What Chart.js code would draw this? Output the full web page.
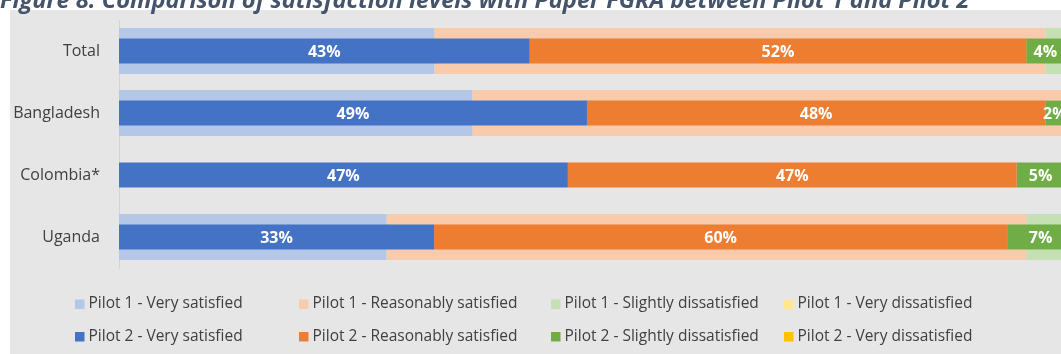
<!DOCTYPE html>
<html>
<head>
<meta charset="utf-8">
<script src="https://cdn.jsdelivr.net/npm/chart.js@4.4.1/dist/chart.umd.min.js"></script>
<style>
    html, body { margin: 0; padding: 0; overflow: hidden; background: #ffffff; }
    #wrap { position: absolute; left: 0; top: 0; width: 1100px; height: 354px; }
</style>
</head>
<body>
<div id="wrap"><canvas id="satisfactionChart" width="1100" height="354"></canvas></div>
<script>
"use strict";

// Kategorier och andelar (%) per pilot
const titleText = 'Figure 8: Comparison of satisfaction levels with Paper FGRA between Pilot 1 and Pilot 2';
const categories = ['Total', 'Bangladesh', 'Colombia*', 'Uganda'];

const pilot1VerySatisfied = [33, 37, null, 28];
const pilot1ReasonablySatisfied = [64, 62, null, 67];
const pilot1SlightlyDissatisfied = [3, 1, null, 5];
const pilot1VeryDissatisfied = [0, 0, null, 0];

const pilot2VerySatisfied = [43, 49, 47, 33];
const pilot2ReasonablySatisfied = [52, 48, 47, 60];
const pilot2SlightlyDissatisfied = [4, 2, 5, 7];
const pilot2VeryDissatisfied = [0, 0, 0, 0];

const textColor = '#404040';
const fontFamily = '"Open Sans", "DejaVu Sans", sans-serif';

// Pilot 1 ritas som breda ljusa staplar bakom, Pilot 2 som smala staplar framför
function pilot1Set(label, data, color) {
    return {
        label: label, data: data, backgroundColor: color, borderWidth: 0,
        stack: 'pilot1', grouped: false, order: 2,
        categoryPercentage: 0.745, barPercentage: 1.0
    };
}

function pilot2Set(label, data, color) {
    return {
        label: label, data: data, backgroundColor: color, borderWidth: 0,
        stack: 'pilot2', grouped: false, order: 1,
        categoryPercentage: 0.40, barPercentage: 1.0
    };
}

const datasets = [
    pilot1Set('Pilot 1 - Very satisfied', pilot1VerySatisfied, '#b4c7e7'),
    pilot1Set('Pilot 1 - Reasonably satisfied', pilot1ReasonablySatisfied, '#f8cbad'),
    pilot1Set('Pilot 1 - Slightly dissatisfied', pilot1SlightlyDissatisfied, '#c5e0b4'),
    pilot1Set('Pilot 1 - Very dissatisfied', pilot1VeryDissatisfied, '#ffe699'),
    pilot2Set('Pilot 2 - Very satisfied', pilot2VerySatisfied, '#4472c4'),
    pilot2Set('Pilot 2 - Reasonably satisfied', pilot2ReasonablySatisfied, '#ed7d31'),
    pilot2Set('Pilot 2 - Slightly dissatisfied', pilot2SlightlyDissatisfied, '#70ad47'),
    pilot2Set('Pilot 2 - Very dissatisfied', pilot2VeryDissatisfied, '#ffc000')
];

// Bakgrund, rubrik och förklaring ritas direkt på canvasen
const pageDecor = {
    id: 'pageDecor',
    beforeDraw(chart) {
        const ctx = chart.ctx;
        ctx.save();
        ctx.fillStyle = '#ffffff';
        ctx.fillRect(0, 0, chart.width, chart.height);
        ctx.fillStyle = '#e6e6e6';
        ctx.fillRect(10, 10, chart.width - 10, chart.height - 10);

        // Anpassa rubrikens storlek till önskad bredd
        let size = 20;
        ctx.font = `italic bold ${size}px ${fontFamily}`;
        size = size * 970 / ctx.measureText(titleText).width;
        ctx.font = `italic bold ${size}px ${fontFamily}`;
        ctx.fillStyle = '#44546a';
        ctx.textBaseline = 'alphabetic';
        ctx.textAlign = 'left';
        ctx.fillText(titleText, 0, 7.5);
        ctx.restore();
    },
    afterDraw(chart) {
        const ctx = chart.ctx;
        const columns = [75, 299, 551, 784];
        const rows = [304, 336.5];
        ctx.save();
        ctx.font = `15.5px ${fontFamily}`;
        ctx.textBaseline = 'middle';
        ctx.textAlign = 'left';
        chart.data.datasets.forEach((ds, i) => {
            const x = columns[i % 4];
            const y = rows[Math.floor(i / 4)];
            ctx.fillStyle = ds.backgroundColor;
            ctx.fillRect(x, y - 4.5, 9.5, 9.5);
            ctx.fillStyle = textColor;
            ctx.fillText(ds.label, x + 13.5, y);
        });
        ctx.restore();
    }
};

// Skriver ut procentvärdet mitt i varje Pilot 2-segment
const valueLabels = {
    id: 'valueLabels',
    afterDatasetsDraw(chart) {
        const ctx = chart.ctx;
        ctx.save();
        ctx.font = `bold 16px ${fontFamily}`;
        ctx.fillStyle = '#ffffff';
        ctx.textAlign = 'center';
        ctx.textBaseline = 'middle';
        chart.data.datasets.forEach((ds, i) => {
            if (ds.stack !== 'pilot2') return;
            const meta = chart.getDatasetMeta(i);
            meta.data.forEach((bar, j) => {
                const value = ds.data[j];
                if (!value) return;
                const p = bar.getCenterPoint();
                ctx.fillText(value + '%', p.x, p.y + 1);
            });
        });
        ctx.restore();
    }
};

new Chart(document.getElementById('satisfactionChart'), {
    type: 'bar',
    data: {
        labels: categories,
        datasets: datasets
    },
    options: {
        indexAxis: 'y',
        responsive: false,
        animation: false,
        layout: {
            padding: { top: 20, bottom: 86, left: 0, right: 26 }
        },
        plugins: {
            legend: { display: false },
            title: { display: false },
            tooltip: { enabled: false }
        },
        scales: {
            x: {
                display: false,
                stacked: true,
                min: 0,
                max: 100
            },
            y: {
                grid: { display: false, drawTicks: false },
                border: { display: true, color: '#d4d4d4', width: 1 },
                ticks: {
                    padding: 19,
                    color: textColor,
                    font: { family: fontFamily, size: 16 }
                },
                afterFit(scale) {
                    scale.width = 119;
                    scale.paddingTop = 0;
                    scale.paddingBottom = 0;
                }
            }
        }
    },
    plugins: [pageDecor, valueLabels]
});
</script>
</body>
</html>
